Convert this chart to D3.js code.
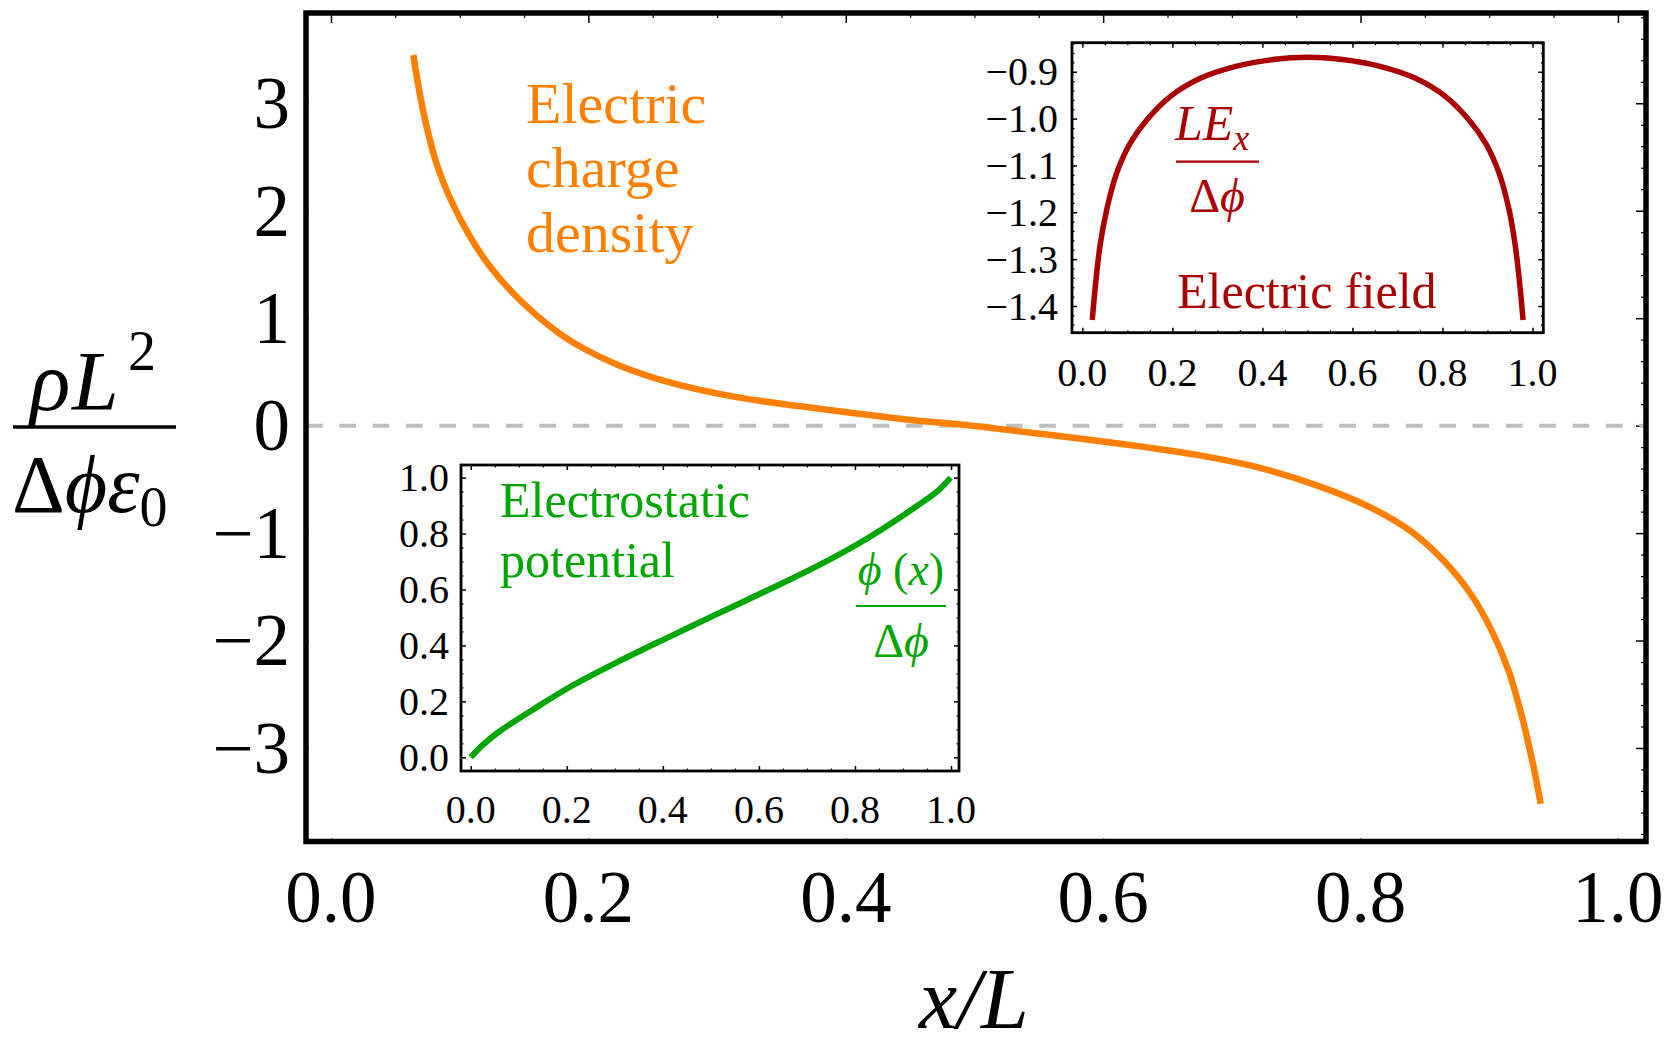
<!DOCTYPE html>
<html>
<head>
<meta charset="utf-8">
<script src="https://cdn.jsdelivr.net/npm/d3@7"></script>
<style>
  body { margin: 0; background: #fff; }
  text { font-family: 'Liberation Serif', 'Times New Roman', serif; }
</style>
</head>
<body>
<svg id="chart" width="1667" height="1047"></svg>
<script>
// charge density, main panel
const rhoX = [0.064, 0.069, 0.075, 0.082, 0.092, 0.107, 0.123, 0.145, 0.175, 0.196, 0.222, 0.261, 0.313, 0.365, 0.442, 0.497,
  0.519, 0.597, 0.637, 0.675, 0.715, 0.767, 0.806, 0.839, 0.865, 0.886, 0.902, 0.915, 0.925, 0.934, 0.940];
const rhoY = [3.45, 3.09, 2.75, 2.44, 2.13, 1.78, 1.49, 1.19, 0.88, 0.72, 0.57, 0.41, 0.27, 0.18, 0.065, 0.0,
  -0.03, -0.143, -0.207, -0.277, -0.373, -0.56, -0.751, -0.982, -1.263, -1.574, -1.91, -2.28, -2.69, -3.15, -3.52];

// electric field inset
const fieldX = [0.022, 0.028, 0.039, 0.054, 0.076, 0.106, 0.143, 0.195, 0.262, 0.343, 0.424, 0.500,
  0.578, 0.659, 0.740, 0.807, 0.859, 0.896, 0.926, 0.948, 0.962, 0.973, 0.979];
const fieldY = [-1.430, -1.366, -1.273, -1.195, -1.117, -1.053, -1.003, -0.953, -0.914, -0.888, -0.874, -0.869,
  -0.874, -0.888, -0.914, -0.953, -1.003, -1.053, -1.117, -1.195, -1.273, -1.366, -1.430];

// potential inset
const phiX = [0.0, 0.026, 0.061, 0.131, 0.201, 0.305, 0.410, 0.500, 0.619, 0.723, 0.828, 0.932, 0.974, 0.999];
const phiY = [0.0, 0.046, 0.094, 0.172, 0.246, 0.340, 0.428, 0.502, 0.598, 0.685, 0.785, 0.902, 0.955, 1.0];

const mainXTicks = [0, 0.2, 0.4, 0.6, 0.8, 1.0];
const mainYTicks = [-3, -2, -1, 0, 1, 2, 3];
const insetXTicks = [0, 0.2, 0.4, 0.6, 0.8, 1.0];
const fieldYTicks = [-1.4, -1.3, -1.2, -1.1, -1.0, -0.9];
const phiYTicks = [0, 0.2, 0.4, 0.6, 0.8, 1.0];

const orange = '#ff8000';
const darkRed = '#aa0000';
const green = '#00a600';

const svg = d3.select('#chart');
const fmt1 = d3.format('.1f');
const fmt0 = d3.format('d');

const minorRange = (dom, step) => {
  const lo = Math.min(dom[0], dom[1]), hi = Math.max(dom[0], dom[1]);
  return d3.range(Math.ceil(lo / step - 1e-9), Math.floor(hi / step + 1e-9) + 1).map(i => +(i * step).toFixed(4));
};

const drawPanel = (props) => {
  const { box, xDom, yDom, xTicks, yTicks, xStep, yStep, frameWidth, sides, fontSize, xFmt, yFmt, labelGap, labelDrop } = props;
  const g = svg.append('g');
  const x = d3.scaleLinear().domain(xDom).range([box.left, box.right]);
  const y = d3.scaleLinear().domain(yDom).range([box.bottom, box.top]);

  g.append('rect')
    .attr('x', box.left).attr('y', box.top)
    .attr('width', box.right - box.left).attr('height', box.bottom - box.top)
    .attr('fill', 'white');

  const addTicks = (axisFn, scale, values, len, transform, width) => {
    if (!values.length || !len) return;
    g.append('g')
      .attr('transform', transform)
      .call(axisFn(scale).tickValues(values).tickSize(-len).tickFormat(''))
      .call(s => s.select('.domain').remove())
      .call(s => s.selectAll('line').attr('stroke', 'black').attr('stroke-width', width));
  };

  const xMinor = minorRange(xDom, xStep).filter(v => !xTicks.some(t => Math.abs(t - v) < 1e-6));
  const yMinor = minorRange(yDom, yStep).filter(v => !yTicks.some(t => Math.abs(t - v) < 1e-6));

  addTicks(d3.axisTop, x, xTicks, sides.top[0], `translate(0,${box.top})`, 1.5);
  addTicks(d3.axisTop, x, xMinor, sides.top[1], `translate(0,${box.top})`, 1.2);
  addTicks(d3.axisBottom, x, xTicks, sides.bottom[0], `translate(0,${box.bottom})`, 1.5);
  addTicks(d3.axisBottom, x, xMinor, sides.bottom[1], `translate(0,${box.bottom})`, 1.2);
  addTicks(d3.axisLeft, y, yTicks, sides.left[0], `translate(${box.left},0)`, 1.5);
  addTicks(d3.axisLeft, y, yMinor, sides.left[1], `translate(${box.left},0)`, 1.2);
  addTicks(d3.axisRight, y, yTicks, sides.right[0], `translate(${box.right},0)`, 1.5);
  addTicks(d3.axisRight, y, yMinor, sides.right[1], `translate(${box.right},0)`, 1.2);

  g.append('g').selectAll('text')
    .data(xTicks)
    .join('text')
    .attr('x', d => x(d))
    .attr('y', box.bottom + labelDrop)
    .attr('text-anchor', 'middle')
    .attr('font-size', fontSize)
    .text(xFmt);

  g.append('g').selectAll('text')
    .data(yTicks)
    .join('text')
    .attr('x', box.left - labelGap)
    .attr('y', d => y(d))
    .attr('dy', '0.34em')
    .attr('text-anchor', 'end')
    .attr('font-size', fontSize)
    .text(yFmt);

  const plot = g.append('g');

  g.append('rect')
    .attr('x', box.left).attr('y', box.top)
    .attr('width', box.right - box.left).attr('height', box.bottom - box.top)
    .attr('fill', 'none')
    .attr('stroke', 'black')
    .attr('stroke-width', frameWidth);

  return { g, plot, x, y };
};

const curve = (p, xs, ys, color, width) => {
  const line = d3.line()
    .x(d => p.x(d[0]))
    .y(d => p.y(d[1]))
    .curve(d3.curveCatmullRom.alpha(0.5));
  p.plot.append('path')
    .datum(d3.zip(xs, ys))
    .attr('d', line)
    .attr('fill', 'none')
    .attr('stroke', color)
    .attr('stroke-width', width);
};

// main panel
const main = drawPanel({
  box: { left: 306, right: 1646, top: 13, bottom: 841.5 },
  xDom: [-0.0194, 1.0218], yDom: [-3.87, 3.84],
  xTicks: mainXTicks, yTicks: mainYTicks, xStep: 0.05, yStep: 0.2,
  frameWidth: 5.5,
  sides: { top: [10, 5], right: [10, 5], bottom: [3, 0], left: [3, 0] },
  fontSize: 73, xFmt: fmt1, yFmt: fmt0, labelGap: 16, labelDrop: 80
});

main.plot.append('line')
  .attr('x1', main.x.range()[0]).attr('x2', main.x.range()[1])
  .attr('y1', main.y(0)).attr('y2', main.y(0))
  .attr('stroke', '#bfbfbf')
  .attr('stroke-width', 4)
  .attr('stroke-dasharray', '16.7 16.63');

curve(main, rhoX, rhoY, orange, 6.5);

const rhoLabel = svg.append('g')
  .attr('fill', orange)
  .attr('font-size', 58);
['Electric', 'charge', 'density'].forEach((t, i) => {
  rhoLabel.append('text').attr('x', 526).attr('y', 123 + i * 64.3).text(t);
});

// axis labels
const yLab = svg.append('g').attr('fill', 'black');
yLab.append('text').attr('x', 30).attr('y', 410).attr('font-size', 84)
  .attr('font-style', 'italic').text('ρ');
yLab.append('text').attr('x', 72).attr('y', 410).attr('font-size', 84)
  .attr('font-style', 'italic').text('L');
yLab.append('text').attr('x', 128).attr('y', 370).attr('font-size', 56).text('2');
yLab.append('line')
  .attr('x1', 13).attr('x2', 176).attr('y1', 427).attr('y2', 427)
  .attr('stroke', 'black').attr('stroke-width', 3.5);
const den = yLab.append('text').attr('x', 12).attr('y', 512).attr('font-size', 82);
den.append('tspan').text('Δ');
den.append('tspan').attr('font-style', 'italic').text('ϕε');
den.append('tspan').attr('font-size', 56).attr('dy', 14).text('0');

svg.append('text')
  .attr('x', 974).attr('y', 1028)
  .attr('text-anchor', 'middle')
  .attr('font-size', 86)
  .attr('font-style', 'italic')
  .text('x/L');

// electric field inset
const field = drawPanel({
  box: { left: 1072, right: 1543.3, top: 42.7, bottom: 332.7 },
  xDom: [-0.023, 1.024], yDom: [-1.457, -0.838],
  xTicks: insetXTicks, yTicks: fieldYTicks, xStep: 0.05, yStep: 0.02,
  frameWidth: 2.8,
  sides: { top: [5, 2.5], right: [5, 2.5], bottom: [5, 2.5], left: [5, 2.5] },
  fontSize: 40, xFmt: fmt1, yFmt: fmt1, labelGap: 14, labelDrop: 53
});
curve(field, fieldX, fieldY, darkRed, 5.5);

const fieldLab = svg.append('g').attr('fill', darkRed);
fieldLab.append('text').attr('x', 1177).attr('y', 308).attr('font-size', 50).text('Electric field');
const fnum = fieldLab.append('text').attr('x', 1175).attr('y', 140).attr('font-size', 50).attr('font-style', 'italic');
fnum.append('tspan').text('LE');
fnum.append('tspan').attr('font-size', 36).attr('dy', 10).text('x');
fieldLab.append('line')
  .attr('x1', 1176).attr('x2', 1259).attr('y1', 161.7).attr('y2', 161.7)
  .attr('stroke', darkRed).attr('stroke-width', 2.2);
const fden = fieldLab.append('text').attr('x', 1217).attr('y', 211.7).attr('font-size', 48).attr('text-anchor', 'middle');
fden.append('tspan').text('Δ');
fden.append('tspan').attr('font-style', 'italic').text('ϕ');

// potential inset
const phi = drawPanel({
  box: { left: 461, right: 959, top: 465, bottom: 771 },
  xDom: [-0.0203, 1.0166], yDom: [-0.049, 1.045],
  xTicks: insetXTicks, yTicks: phiYTicks, xStep: 0.05, yStep: 0.05,
  frameWidth: 2.8,
  sides: { top: [5, 2.5], right: [5, 2.5], bottom: [5, 2.5], left: [5, 2.5] },
  fontSize: 40, xFmt: fmt1, yFmt: fmt1, labelGap: 12, labelDrop: 52
});
curve(phi, phiX, phiY, green, 6);

const phiLab = svg.append('g').attr('fill', green);
phiLab.append('text').attr('x', 500).attr('y', 517).attr('font-size', 50).text('Electrostatic');
phiLab.append('text').attr('x', 500).attr('y', 577).attr('font-size', 50).text('potential');
const pnum = phiLab.append('text').attr('x', 901).attr('y', 585).attr('font-size', 46).attr('text-anchor', 'middle');
pnum.append('tspan').attr('font-style', 'italic').text('ϕ');
pnum.append('tspan').text(' (');
pnum.append('tspan').attr('font-style', 'italic').text('x');
pnum.append('tspan').text(')');
phiLab.append('line')
  .attr('x1', 856).attr('x2', 946).attr('y1', 606).attr('y2', 606)
  .attr('stroke', green).attr('stroke-width', 2.2);
const pden = phiLab.append('text').attr('x', 901).attr('y', 657).attr('font-size', 48).attr('text-anchor', 'middle');
pden.append('tspan').text('Δ');
pden.append('tspan').attr('font-style', 'italic').text('ϕ');
</script>
</body>
</html>
